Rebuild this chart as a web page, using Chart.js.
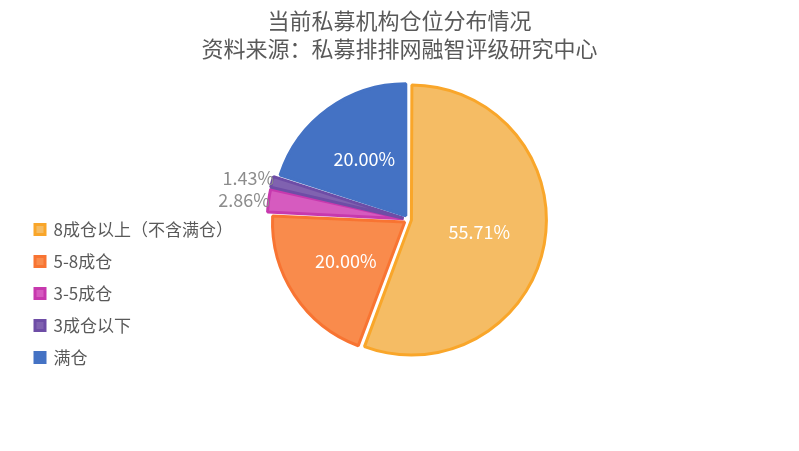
<!DOCTYPE html>
<html><head><meta charset="utf-8">
<script src="https://cdn.jsdelivr.net/npm/chart.js@4"></script>
<style>body{margin:0;background:#fff}#wrap{width:799px;height:451px}</style>
</head><body><div id="wrap"><canvas id="c"></canvas></div>
<script>
var labels = ['8成仓以上（不含满仓）', '5-8成仓', '3-5成仓', '3成仓以下', '满仓'];
var values = [55.71, 20.00, 2.86, 1.43, 20.00];
var titleLines = ['当前私募机构仓位分布情况', '资料来源：私募排排网融智评级研究中心'];
var fills = ['#F5BC64', '#F98B4C', '#D65BBF', '#8062B0', '#4472C4'];
var borders = ['#F9A62A', '#F87432', '#C739AE', '#6E4DA6', '#4472C4'];

var labelPlugin = {
  id: 'vals',
  afterLayout: function(chart) {
    var lg = chart.legend, dy = 18;
    lg.top += dy; lg.bottom += dy;
    (lg.legendHitBoxes || []).forEach(function(h) { h.top += dy; });
  },
  afterDatasetsDraw: function(chart) {
    var ctx = chart.ctx;
    var meta = chart.getDatasetMeta(0);
    ctx.save();
    ctx.font = '18px "Noto Sans CJK SC", sans-serif';
    ctx.textAlign = 'center';
    ctx.textBaseline = 'middle';
    meta.data.forEach(function(arc, i) {
      var txt = values[i].toFixed(2) + '%';
      var p;
      if (values[i] < 5) {
        var a = (arc.startAngle + arc.endAngle) / 2;
        var r = arc.outerRadius + 30;
        p = {x: arc.x + Math.cos(a) * r - 4, y: arc.y + Math.sin(a) * r + 2};
        ctx.fillStyle = '#8c8c8c';
      } else {
        p = arc.tooltipPosition();
        ctx.fillStyle = '#ffffff';
      }
      ctx.fillText(txt, p.x, p.y);
    });
    // title centred on the whole canvas
    ctx.fillStyle = '#595959';
    ctx.font = '22px "Noto Sans CJK SC", sans-serif';
    ctx.fillText(titleLines[0], chart.width / 2, 21);
    ctx.fillText(titleLines[1], chart.width / 2, 49);
    ctx.restore();
  }
};

new Chart(document.getElementById('c'), {
  type: 'pie',
  data: {
    labels: labels,
    datasets: [{
      data: values,
      backgroundColor: fills,
      borderColor: borders,
      borderWidth: 3,
      offset: [12, 18, 20, 20, 18]
    }]
  },
  options: {
    responsive: true,
    maintainAspectRatio: false,
    animation: false,
    layout: {padding: {top: 76, bottom: 88, right: 225, left: 20}},
    plugins: {
      legend: {
        position: 'left',
        align: 'end',
        labels: {
          color: '#595959',
          font: {size: 17, family: '"Noto Sans CJK SC", sans-serif'},
          boxWidth: 10, boxHeight: 10,
          padding: 15
        }
      },
      tooltip: {enabled: false}
    }
  },
  plugins: [labelPlugin]
});
</script></body></html>
